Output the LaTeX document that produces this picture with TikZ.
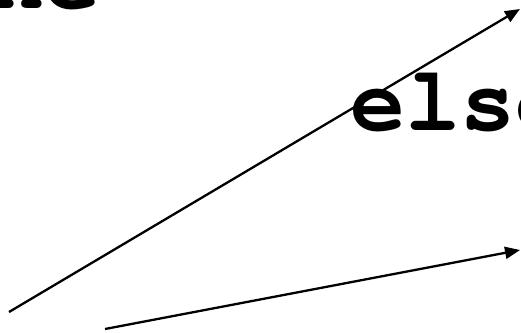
\documentclass[tikz,border=0pt]{standalone}
\usepackage[T1]{fontenc}
\usepackage{courier}
\usepackage{xcolor}
\usepackage{tikz}
\usetikzlibrary{positioning, arrows.meta}

\tikzset{
  keyword/.style={inner sep=0pt, anchor=base west, font=\fontsize{92}{100}\selectfont\ttfamily\bfseries},
  flow/.style={line width=2.3pt, -{Triangle[length=15pt, width=12pt]}}
}

\begin{document}
\begin{tikzpicture}[x=1pt, y=-1pt]
    \useasboundingbox (0,0) rectangle (521,332);
    \node[keyword] (done) at (-121,9) {done};
    \node[keyword] (else) at (350,130) {else};
    % arrows
    \coordinate (fromA) at (9,312);
    \coordinate (toA) at (520,9);
    \coordinate (fromB) at (105,329);
    \coordinate (toB) at (520,250);
    \draw[flow] (fromA) -- (toA);
    \draw[flow] (fromB) -- (toB);
  \end{tikzpicture}
\end{document}
